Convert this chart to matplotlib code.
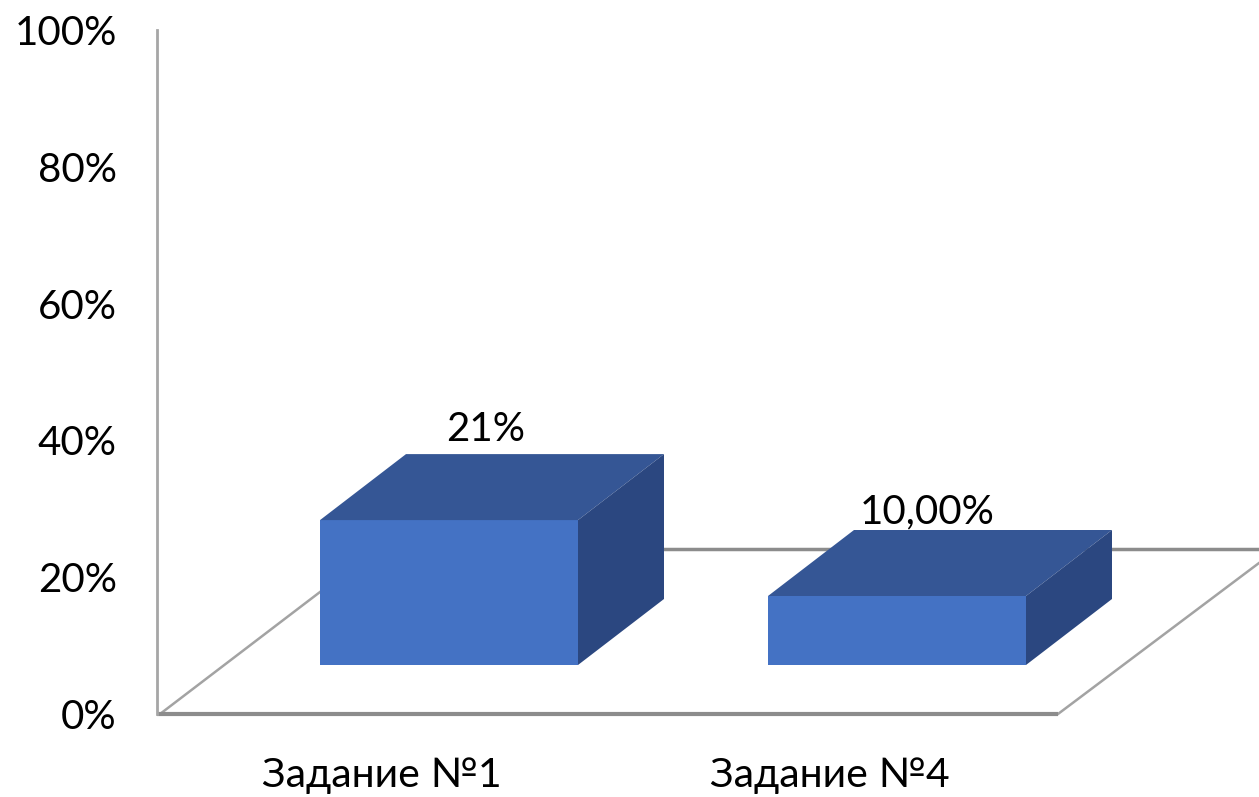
import matplotlib
matplotlib.use("Agg")
import matplotlib.pyplot as plt
from matplotlib.patches import Polygon

categories = ["Задание №1", "Задание №4"]
values = [21, 10]
value_labels = ["21%", "10,00%"]
y_ticks = [0, 20, 40, 60, 80, 100]

FRONT = "#4472c4"
TOP = "#355695"
SIDE = "#2b4780"
AXIS = "#8c8c8c"
FLOOR = "#a3a3a3"
INK = "#000000"

W, H = 1259, 797
DPI = 100
plt.rcParams["font.family"] = ["Lato", "Open Sans", "DejaVu Sans"]

fig = plt.figure(figsize=(W / DPI, H / DPI), dpi=DPI)
# plot box in pixels: x 157..1058, y 30..714
ax = fig.add_axes([157 / W, 1 - 714 / H, 901 / W, 684 / H])
ax.set_xlim(0, 2)
ax.set_ylim(0, 100)
ax.patch.set_visible(False)
for s in ("top", "right", "bottom"):
    ax.spines[s].set_visible(False)
ax.spines["left"].set_color("#a6a6a6")
ax.spines["left"].set_linewidth(2)
ax.set_xticks([])
ax.set_yticks(y_ticks)
ax.set_yticklabels([f"{t}%" for t in y_ticks], fontsize=29, color=INK, va="center_baseline")
ax.tick_params(axis="y", length=0, pad=29)

px_x = 2 / 901       # data units per pixel
px_y = 100 / 684

# floor outline, back edge runs off the right side of the figure
floor_dx, floor_dy = 217 * px_x, 165 * px_y
ax.plot([3 * px_x, 163 * px_x], [0, 122 * px_y], color=FLOOR, lw=1.8, clip_on=False)
ax.plot([2, 2 + 201 * px_x], [0, 151 * px_y], color=FLOOR, lw=1.8, clip_on=False)
ax.plot([0, 2], [0, 0], color=AXIS, lw=3, clip_on=False, solid_capstyle="butt")
ax.plot([0.48, 2 + floor_dx], [floor_dy, floor_dy], color=AXIS, lw=2.5, clip_on=False, zorder=1)

# bar footprint
bar_w = 258 * px_x
base = 49 * px_y
depth_x, depth_y = 86 * px_x, 66 * px_y
lefts = [163 * px_x, 611 * px_x]
scale_y = 690 / 684

# value label nudges in pixels: across from bar centre, up from back top edge
label_nudge = [(37, 13), (30, 7)]

for left, v, lab, (nx, ny) in zip(lefts, values, value_labels, label_nudge):
    h = v * scale_y
    r, b, t = left + bar_w, base, base + h
    ax.add_patch(Polygon([(left, b), (r, b), (r, t), (left, t)], fc=FRONT, ec="none",
                         zorder=3, clip_on=False))
    ax.add_patch(Polygon([(left, t), (r, t), (r + depth_x, t + depth_y), (left + depth_x, t + depth_y)],
                         fc=TOP, ec="none", zorder=3, clip_on=False))
    ax.add_patch(Polygon([(r, b), (r + depth_x, b + depth_y), (r + depth_x, t + depth_y), (r, t)],
                         fc=SIDE, ec="none", zorder=3, clip_on=False))
    ax.text(left + bar_w / 2 + nx * px_x, t + depth_y + ny * px_y, lab,
            ha="center", va="baseline", fontsize=29, color=INK, zorder=4)

for left, cat in zip(lefts, categories):
    ax.text(left + bar_w / 2 - 67 * px_x, -73 * px_y, cat,
            ha="center", va="baseline", fontsize=29.5, color=INK, clip_on=False)

fig.savefig("out.png", dpi=DPI)
